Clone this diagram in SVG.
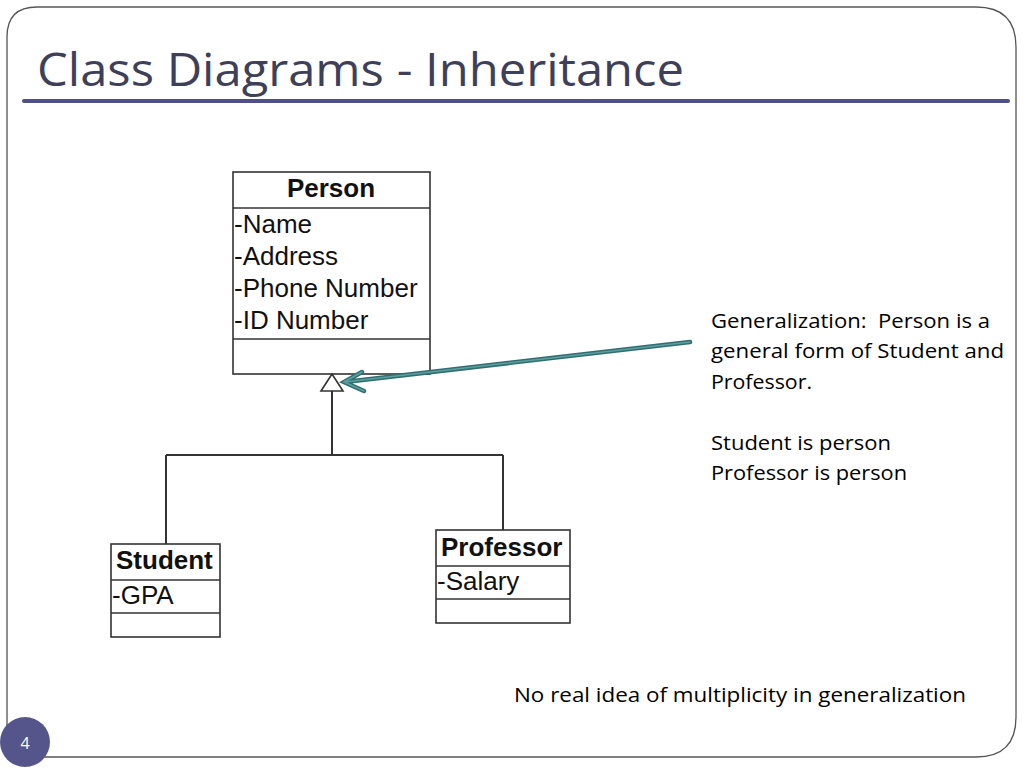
<svg xmlns="http://www.w3.org/2000/svg" width="1024" height="768" viewBox="0 0 1024 768">
<style>
.box{fill:#ffffff;stroke:#333333;stroke-width:1.6}
.div{stroke:#333333;stroke-width:1.6}
.uml{font-family:"Liberation Sans",Arial,sans-serif;font-size:26px;fill:#111111}
.umlb{font-family:"Liberation Sans",Arial,sans-serif;font-size:26px;font-weight:bold;fill:#111111}
.note{font-family:"Open Sans","Noto Sans",sans-serif;font-size:20px;fill:#000000}
.conn{fill:none;stroke:#333333;stroke-width:2}
</style>
<rect width="1024" height="768" fill="#ffffff"/>
<path d="M7,757 L7,37 Q7,7 37,7 L976,7 Q1016,7 1016,47 L1016,717 Q1016,757 976,757 Z" fill="none" stroke="#555555" stroke-width="1.3"/>
<text x="37" y="86" font-family="Open Sans,Noto Sans,sans-serif" font-size="46" fill="#3e4059" textLength="647" lengthAdjust="spacingAndGlyphs">Class Diagrams - Inheritance</text>
<line x1="24" y1="101" x2="1008" y2="101" stroke="#4f5184" stroke-width="4" stroke-linecap="round"/>
<g id="person">
<rect class="box" x="233" y="172" width="197" height="202"/>
<line class="div" x1="233" y1="208" x2="430" y2="208"/>
<line class="div" x1="233" y1="339" x2="430" y2="339"/>
<text class="umlb" x="331" y="197" text-anchor="middle">Person</text>
<text class="uml" x="234" y="233">-Name</text>
<text class="uml" x="234" y="265">-Address</text>
<text class="uml" x="234" y="297">-Phone Number</text>
<text class="uml" x="234" y="329">-ID Number</text>
</g>
<g id="student">
<rect class="box" x="111" y="544" width="109" height="93"/>
<line class="div" x1="111" y1="580" x2="220" y2="580"/>
<line class="div" x1="111" y1="613" x2="220" y2="613"/>
<text class="umlb" x="116" y="569">Student</text>
<text class="uml" x="112" y="604">-GPA</text>
</g>
<g id="professor">
<rect class="box" x="436" y="530" width="134" height="93"/>
<line class="div" x1="436" y1="566" x2="570" y2="566"/>
<line class="div" x1="436" y1="599" x2="570" y2="599"/>
<text class="umlb" x="441" y="556">Professor</text>
<text class="uml" x="437" y="590">-Salary</text>
</g>
<g id="connectors">
<path class="conn" d="M332,391 L332,455 M166,455 L503,455 M166,455 L166,544 M503,455 L503,530"/>
<polygon points="332,374 321,391 343,391" fill="#ffffff" stroke="#333333" stroke-width="1.6"/>
<g stroke-linecap="round" fill="none">
<path d="M690,342 L345,382 M362,372 L344,382 L364,391" stroke="#2f6f72" stroke-width="4.5"/>
<path d="M690,342 L345,382 M362,372 L344,382 L364,391" stroke="#5f9ea0" stroke-width="1.5"/>
</g>
</g>
<g id="notes">
<text class="note" x="711" y="328" textLength="279" lengthAdjust="spacingAndGlyphs" xml:space="preserve">Generalization:  Person is a</text>
<text class="note" x="711" y="358" textLength="293" lengthAdjust="spacingAndGlyphs">general form of Student and</text>
<text class="note" x="711" y="389" textLength="101" lengthAdjust="spacingAndGlyphs">Professor.</text>
<text class="note" x="711" y="450" textLength="180" lengthAdjust="spacingAndGlyphs">Student is person</text>
<text class="note" x="711" y="480" textLength="196" lengthAdjust="spacingAndGlyphs">Professor is person</text>
<text class="note" x="514" y="702" textLength="452" lengthAdjust="spacingAndGlyphs">No real idea of multiplicity in generalization</text>
</g>
<g id="pagenum">
<circle cx="25" cy="742" r="25" fill="#55558c"/>
<text x="25" y="749" text-anchor="middle" font-family="Open Sans,Noto Sans,sans-serif" font-size="16" fill="#ffffff">4</text>
</g>
</svg>
